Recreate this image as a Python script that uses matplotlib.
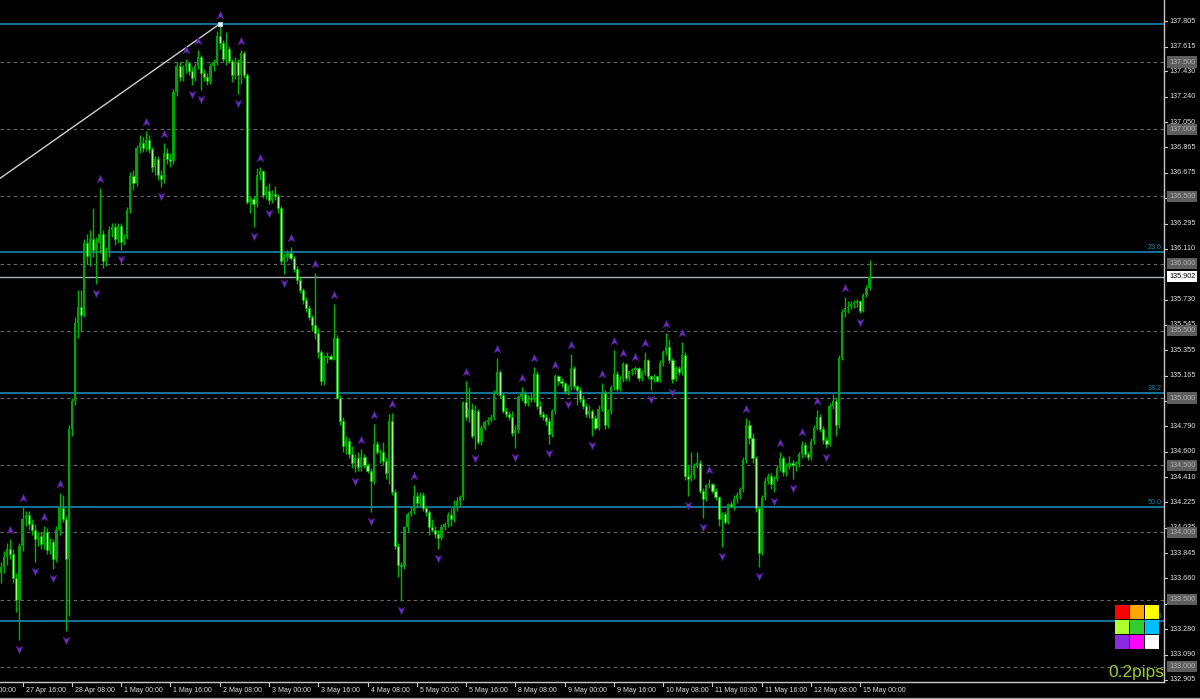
import numpy as np
import pandas as pd
import matplotlib
matplotlib.use("Agg")
import matplotlib.pyplot as plt
from matplotlib.path import Path
from matplotlib.patches import Rectangle
from matplotlib.lines import Line2D
from matplotlib.transforms import offset_copy

# H1 bars, 27 Apr 09:00 -> 15 May 03:00 (weekends skipped)
opens = [133.70, 133.74, 133.82, 133.88, 133.84, 133.66, 133.50, 133.90, 134.10, 134.13,
         134.06, 134.02, 133.95, 133.97, 133.91, 134.00, 133.87, 133.93, 133.80, 134.02,
         134.18, 134.10, 133.80, 134.77, 134.98, 135.56, 135.68, 135.62, 136.15, 136.06,
         136.18, 136.10, 136.15, 136.22, 136.02, 136.10, 136.25, 136.27, 136.18, 136.28,
         136.16, 136.20, 136.40, 136.65, 136.60, 136.86, 136.90, 136.86, 136.92, 136.85,
         136.72, 136.78, 136.66, 136.63, 136.82, 136.78, 136.76, 137.28, 137.47, 137.39,
         137.46, 137.49, 137.43, 137.38, 137.47, 137.54, 137.42, 137.39, 137.36, 137.47,
         137.50, 137.69, 137.64, 137.52, 137.60, 137.51, 137.40, 137.50, 137.40, 137.57,
         137.40, 136.46, 136.48, 136.44, 136.66, 136.69, 136.51, 136.54, 136.47, 136.52,
         136.50, 136.41, 136.02, 136.05, 136.08, 136.04, 135.96, 135.88, 135.80, 135.73,
         135.67, 135.60, 135.54, 135.48, 135.34, 135.13, 135.30, 135.31, 135.29, 135.45,
         135.00, 134.83, 134.64, 134.68, 134.58, 134.52, 134.55, 134.49, 134.56, 134.50,
         134.46, 134.38, 134.66, 134.60, 134.60, 134.53, 134.44, 134.83, 134.30, 133.90,
         133.76, 133.75, 134.04, 134.14, 134.16, 134.27, 134.22, 134.28, 134.18, 134.15,
         134.04, 134.02, 133.99, 133.96, 134.04, 134.06, 134.13, 134.10, 134.19, 134.23,
         134.26, 134.97, 134.86, 134.92, 134.72, 134.90, 134.67, 134.78, 134.82, 134.84,
         134.86, 135.04, 135.19, 135.02, 134.90, 134.88, 134.86, 134.74, 134.76, 135.01,
         135.03, 134.96, 135.00, 134.99, 135.18, 134.94, 134.88, 134.86, 134.83, 134.73,
         134.90, 135.16, 135.13, 135.11, 135.05, 135.08, 135.22, 135.09, 135.06, 134.99,
         134.94, 134.88, 134.90, 134.85, 134.78, 134.92, 135.04, 134.80, 134.90, 135.08,
         135.18, 135.07, 135.14, 135.25, 135.15, 135.20, 135.21, 135.22, 135.15, 135.19,
         135.28, 135.16, 135.14, 135.16, 135.13, 135.26, 135.34, 135.38, 135.28, 135.14,
         135.22, 135.19, 135.32, 134.42, 134.40, 134.43, 134.50, 134.52, 134.31, 134.25,
         134.35, 134.36, 134.31, 134.26, 134.10, 134.14, 134.08, 134.21, 134.20, 134.25,
         134.28, 134.32, 134.54, 134.80, 134.70, 134.55, 134.18, 133.85, 134.26, 134.38,
         134.42, 134.36, 134.40, 134.48, 134.55, 134.45, 134.49, 134.52, 134.50, 134.51,
         134.58, 134.65, 134.58, 134.56, 134.68, 134.78, 134.86, 134.77, 134.69, 134.66,
         134.94, 134.98, 134.80, 135.30, 135.64, 135.67, 135.68, 135.70, 135.71, 135.72,
         135.65, 135.77, 135.82]
highs = [133.78, 133.86, 133.92, 133.95, 133.88, 133.70, 133.92, 134.19, 134.16, 134.16,
         134.10, 134.06, 134.00, 134.00, 134.05, 134.03, 133.96, 133.95, 134.05, 134.29,
         134.28, 134.12, 134.80, 135.00, 135.60, 135.80, 135.80, 136.18, 136.22, 136.25,
         136.41, 136.20, 136.56, 136.25, 136.12, 136.28, 136.30, 136.30, 136.30, 136.30,
         136.22, 136.42, 136.68, 136.70, 136.88, 136.96, 136.94, 136.99, 136.96, 136.87,
         136.80, 136.80, 136.70, 136.90, 136.86, 136.82, 137.30, 137.50, 137.50, 137.48,
         137.52, 137.50, 137.46, 137.49, 137.59, 137.55, 137.45, 137.42, 137.49, 137.52,
         137.73, 137.783, 137.66, 137.72, 137.62, 137.52, 137.54, 137.52, 137.59, 137.58,
         137.42, 136.50, 136.50, 136.71, 136.72, 136.70, 136.58, 136.60, 136.55, 136.58,
         136.52, 136.43, 136.08, 136.10, 136.12, 136.06, 135.98, 135.90, 135.82, 135.75,
         135.69, 135.62, 135.93, 135.52, 135.36, 135.32, 135.34, 135.33, 135.70, 135.47,
         135.02, 134.86, 134.72, 134.70, 134.64, 134.58, 134.60, 134.62, 134.58, 134.52,
         134.48, 134.81, 134.68, 134.62, 134.67, 134.55, 134.88, 134.89, 134.32, 133.92,
         133.78, 134.05, 134.15, 134.20, 134.35, 134.30, 134.30, 134.30, 134.20, 134.17,
         134.10, 134.05, 134.02, 134.06, 134.08, 134.15, 134.18, 134.24, 134.26, 134.28,
         134.98, 135.13, 135.08, 134.96, 134.95, 134.92, 134.80, 134.84, 134.86, 134.88,
         135.06, 135.30, 135.21, 135.04, 134.93, 134.90, 134.90, 134.80, 135.02, 135.08,
         135.05, 135.02, 135.04, 135.23, 135.20, 134.98, 134.90, 134.88, 134.85, 134.92,
         135.18, 135.17, 135.15, 135.12, 135.10, 135.33, 135.24, 135.10, 135.08, 135.02,
         134.96, 134.95, 134.92, 134.87, 134.95, 135.11, 135.06, 134.92, 135.10, 135.36,
         135.20, 135.16, 135.27, 135.26, 135.21, 135.22, 135.24, 135.23, 135.21, 135.34,
         135.29, 135.17, 135.18, 135.17, 135.28, 135.36, 135.48, 135.44, 135.30, 135.24,
         135.24, 135.42, 135.34, 134.50, 134.60, 134.52, 134.60, 134.54, 134.33, 134.36,
         134.40, 134.37, 134.33, 134.27, 134.15, 134.16, 134.22, 134.23, 134.28, 134.30,
         134.34, 134.56, 134.85, 134.84, 134.74, 134.57, 134.20, 134.28, 134.41, 134.44,
         134.44, 134.42, 134.50, 134.60, 134.57, 134.52, 134.57, 134.54, 134.53, 134.60,
         134.68, 134.67, 134.60, 134.70, 134.80, 134.91, 134.88, 134.79, 134.71, 134.96,
         135.03, 135.00, 135.32, 135.66, 135.75, 135.72, 135.72, 135.73, 135.74, 135.73,
         135.78, 135.84, 136.03]
lows = [133.62, 133.70, 133.76, 133.80, 133.62, 133.41, 133.20, 133.86, 134.05, 134.02,
        133.98, 133.78, 133.90, 133.88, 133.88, 133.84, 133.84, 133.73, 133.78, 133.98,
        134.08, 133.27, 133.38, 134.72, 134.95, 135.45, 135.50, 135.60, 136.00, 135.98,
        136.05, 135.85, 136.08, 135.97, 135.98, 136.05, 136.20, 136.14, 136.15, 136.10,
        136.14, 136.18, 136.38, 136.55, 136.58, 136.82, 136.83, 136.84, 136.82, 136.68,
        136.66, 136.62, 136.57, 136.60, 136.74, 136.72, 136.74, 137.25, 137.36, 137.36,
        137.42, 137.40, 137.33, 137.36, 137.45, 137.29, 137.36, 137.33, 137.34, 137.43,
        137.48, 137.60, 137.50, 137.48, 137.49, 137.35, 137.37, 137.26, 137.34, 137.38,
        136.44, 136.38, 136.27, 136.42, 136.62, 136.49, 136.48, 136.44, 136.45, 136.47,
        136.38, 136.00, 135.92, 136.02, 136.03, 135.94, 135.85, 135.78, 135.70, 135.64,
        135.58, 135.50, 135.44, 135.30, 135.10, 135.10, 135.26, 135.28, 135.28, 134.99,
        134.80, 134.60, 134.58, 134.55, 134.48, 134.45, 134.46, 134.46, 134.48, 134.44,
        134.15, 134.36, 134.58, 134.52, 134.50, 134.40, 134.36, 134.28, 133.88, 133.67,
        133.49, 133.73, 134.00, 134.12, 134.14, 134.18, 134.20, 134.16, 134.12, 133.98,
        134.00, 133.96, 133.88, 133.94, 134.02, 134.04, 134.05, 134.08, 134.16, 134.20,
        134.24, 134.84, 134.82, 134.70, 134.62, 134.66, 134.65, 134.76, 134.80, 134.82,
        134.84, 135.02, 135.00, 134.89, 134.86, 134.84, 134.72, 134.63, 134.74, 134.98,
        134.94, 134.94, 134.97, 134.97, 134.92, 134.86, 134.84, 134.80, 134.66, 134.71,
        134.88, 135.10, 135.08, 135.03, 135.02, 135.06, 135.07, 134.95, 134.97, 134.92,
        134.86, 134.85, 134.72, 134.76, 134.76, 134.90, 134.77, 134.78, 134.88, 135.06,
        135.05, 135.05, 135.12, 135.13, 135.13, 135.17, 135.18, 135.13, 135.13, 135.17,
        135.14, 135.06, 135.12, 135.12, 135.12, 135.24, 135.32, 135.26, 135.11, 135.13,
        135.17, 135.17, 134.39, 134.27, 134.38, 134.40, 134.48, 134.29, 134.11, 134.23,
        134.33, 134.29, 134.24, 134.05, 133.89, 134.06, 134.06, 134.18, 134.17, 134.22,
        134.25, 134.30, 134.52, 134.66, 134.52, 134.15, 133.74, 133.83, 134.24, 134.36,
        134.32, 134.30, 134.38, 134.46, 134.42, 134.42, 134.47, 134.40, 134.46, 134.49,
        134.55, 134.56, 134.54, 134.54, 134.66, 134.76, 134.75, 134.66, 134.63, 134.64,
        134.92, 134.72, 134.78, 135.28, 135.60, 135.63, 135.66, 135.67, 135.68, 135.63,
        135.64, 135.75, 135.80]
closes = [133.74, 133.82, 133.88, 133.84, 133.66, 133.50, 133.90, 134.10, 134.13, 134.06,
          134.02, 133.95, 133.97, 133.91, 134.00, 133.87, 133.93, 133.80, 134.02, 134.18,
          134.10, 133.80, 134.77, 134.98, 135.56, 135.68, 135.62, 136.15, 136.06, 136.18,
          136.10, 136.15, 136.22, 136.02, 136.10, 136.25, 136.27, 136.18, 136.28, 136.16,
          136.20, 136.40, 136.65, 136.60, 136.86, 136.90, 136.86, 136.92, 136.85, 136.72,
          136.78, 136.66, 136.63, 136.82, 136.78, 136.76, 137.28, 137.47, 137.39, 137.46,
          137.49, 137.43, 137.38, 137.47, 137.54, 137.42, 137.39, 137.36, 137.47, 137.50,
          137.69, 137.64, 137.52, 137.60, 137.51, 137.40, 137.50, 137.40, 137.57, 137.40,
          136.46, 136.48, 136.44, 136.66, 136.69, 136.51, 136.54, 136.47, 136.52, 136.50,
          136.41, 136.02, 136.05, 136.08, 136.04, 135.96, 135.88, 135.80, 135.73, 135.67,
          135.60, 135.54, 135.48, 135.34, 135.13, 135.30, 135.31, 135.29, 135.45, 135.00,
          134.83, 134.64, 134.68, 134.58, 134.52, 134.55, 134.49, 134.56, 134.50, 134.46,
          134.38, 134.66, 134.60, 134.60, 134.53, 134.44, 134.83, 134.30, 133.90, 133.76,
          133.75, 134.04, 134.14, 134.16, 134.27, 134.22, 134.28, 134.18, 134.15, 134.04,
          134.02, 133.99, 133.96, 134.04, 134.06, 134.13, 134.10, 134.19, 134.23, 134.26,
          134.97, 134.86, 134.92, 134.72, 134.90, 134.67, 134.78, 134.82, 134.84, 134.86,
          135.04, 135.19, 135.02, 134.90, 134.88, 134.86, 134.74, 134.76, 135.01, 135.03,
          134.96, 135.00, 134.99, 135.18, 134.94, 134.88, 134.86, 134.83, 134.73, 134.90,
          135.16, 135.13, 135.11, 135.05, 135.08, 135.22, 135.09, 135.06, 134.99, 134.94,
          134.88, 134.90, 134.85, 134.78, 134.92, 135.04, 134.80, 134.90, 135.08, 135.18,
          135.07, 135.14, 135.25, 135.15, 135.20, 135.21, 135.22, 135.15, 135.19, 135.28,
          135.16, 135.14, 135.16, 135.13, 135.26, 135.34, 135.38, 135.28, 135.14, 135.22,
          135.19, 135.32, 134.42, 134.40, 134.43, 134.50, 134.52, 134.31, 134.25, 134.35,
          134.36, 134.31, 134.26, 134.10, 134.14, 134.08, 134.21, 134.20, 134.25, 134.28,
          134.32, 134.54, 134.80, 134.70, 134.55, 134.18, 133.85, 134.26, 134.38, 134.42,
          134.36, 134.40, 134.48, 134.55, 134.45, 134.49, 134.52, 134.50, 134.51, 134.58,
          134.65, 134.58, 134.56, 134.68, 134.78, 134.86, 134.77, 134.69, 134.66, 134.94,
          134.98, 134.80, 135.30, 135.64, 135.67, 135.68, 135.70, 135.71, 135.72, 135.65,
          135.77, 135.82, 135.902]

bid = 135.902
fib_high, fib_low = 137.783, 130.60
fib_high_bar, fib_low_bar = 71, -375
fib_levels = [0.0, 23.6, 38.2, 50.0, 61.8]
round_levels = [133.0, 133.5, 134.0, 134.5, 135.0, 135.5, 136.0, 136.5, 137.0, 137.5]
# 135.920 sits fully under the bid box in the original, so it is left out
price_ticks = [137.805, 137.615, 137.430, 137.240, 137.050, 136.865, 136.675, 136.485,
               136.295, 136.110, 135.730, 135.545, 135.355, 135.165, 134.980,
               134.790, 134.600, 134.410, 134.225, 134.035, 133.845, 133.660, 133.470,
               133.280, 133.090, 132.905]
swatches = [['#ff0000', '#ffa500', '#ffff00'],
            ['#adff2f', '#32cd32', '#00bfff'],
            ['#8a2be2', '#ff00ff', '#ffffff']]
spread_text = '0.2pips'

plt.rcParams['font.family'] = ['Liberation Sans', 'DejaVu Sans']

# time axis (first label 27 Apr 00:00 sits 9 bars left of the first bar)
hours = pd.date_range('2017-04-27 00:00', '2017-05-15 03:00', freq='h')
hours = hours[hours.dayofweek < 5]
first = 9
o = np.array(opens); h = np.array(highs); l = np.array(lows); c = np.array(closes)
n = len(c)
x = np.arange(n)

W, H = 1200, 699
fig = plt.figure(figsize=(W / 100, H / 100), dpi=100, facecolor='black')
ax = fig.add_axes([0, 17 / H, 1164 / W, 682 / H], facecolor='black')
ax.set_xlim(-0.32, 377.6)
ax.set_ylim(137.5 - 620 / 134.4, 137.5 + 62 / 134.4)

for s in ['left', 'top']:
    ax.spines[s].set_visible(False)
for s in ['right', 'bottom']:
    ax.spines[s].set_color('#c8c8c8')
    ax.spines[s].set_linewidth(1.0)

# round levels
for lv in round_levels:
    ax.axhline(lv, color='#6a6a6a', lw=0.8, ls=(0, (3, 3)), zorder=1)

# fibonacci
fib_col = '#1a86b4'
for r in fib_levels:
    lv = fib_high - (fib_high - fib_low) * r / 100
    ax.axhline(lv, color=fib_col, lw=1.2, zorder=2)
    if r > 0:
        ax.annotate(f'{r:.1f}', xy=(1, lv), xycoords=('axes fraction', 'data'),
                    xytext=(-2, 1), textcoords='offset pixels', ha='right', va='bottom',
                    color=fib_col, fontsize=5.2, zorder=2)
ax.plot([fib_low_bar, fib_high_bar], [fib_low, fib_high], color='#cfcfcf', lw=1, zorder=3)
ax.plot([fib_high_bar], [fib_high], marker='s', ms=3.2, mfc='white', mec='#b8e0ff',
        mew=0.6, zorder=6)

# bid line
ax.axhline(bid, color='#a9b2ba', lw=1, zorder=2)

# candles
up = c >= o
ax.vlines(x, l, h, color='#00b400', lw=1, zorder=3)
body_lo = np.minimum(o, c)
body_h = np.maximum(np.abs(c - o), 0.007)
ax.bar(x[up], body_h[up], bottom=body_lo[up], width=0.7, color='#00a400',
       linewidth=0, zorder=4)
ax.bar(x[~up], body_h[~up], bottom=body_lo[~up], width=0.7, color='#90ff72',
       edgecolor='#00b400', linewidth=0.4, zorder=4)

# fractals
fr_up = [i for i in range(2, n - 2) if h[i] > max(h[i - 2], h[i - 1], h[i + 1], h[i + 2])]
fr_dn = [i for i in range(2, n - 2) if l[i] < min(l[i - 2], l[i - 1], l[i + 1], l[i + 2])]
arrow_up = Path([(0, 1), (0.8, -0.8), (0, -0.3), (-0.8, -0.8), (0, 1)],
                [Path.MOVETO, Path.LINETO, Path.LINETO, Path.LINETO, Path.CLOSEPOLY])
arrow_dn = Path([(0, -1), (0.8, 0.8), (0, 0.3), (-0.8, 0.8), (0, -1)],
                [Path.MOVETO, Path.LINETO, Path.LINETO, Path.LINETO, Path.CLOSEPOLY])
tr_up = offset_copy(ax.transData, fig=fig, x=0, y=9, units='dots')
tr_dn = offset_copy(ax.transData, fig=fig, x=0, y=-9, units='dots')
ax.plot(x[fr_up], h[fr_up], ls='none', marker=arrow_up, ms=6, mfc='#7430cc',
        mec='#45197f', mew=0.5, transform=tr_up, zorder=5)
ax.plot(x[fr_dn], l[fr_dn], ls='none', marker=arrow_dn, ms=6, mfc='#7430cc',
        mec='#45197f', mew=0.5, transform=tr_dn, zorder=5)

# price scale
ax.set_yticks([])
ax.set_xticks([])
for p in price_ticks:
    ax.add_line(Line2D([1, 1.003], [p, p], transform=ax.get_yaxis_transform(),
                       color='#c8c8c8', lw=0.8, clip_on=False))
    ax.annotate(f'{p:.3f}', xy=(1, p), xycoords=('axes fraction', 'data'),
                xytext=(5, 0), textcoords='offset pixels', ha='left', va='center',
                color='#e0e0e0', fontsize=5.2, annotation_clip=False)
for lv in round_levels:
    ax.annotate(f'{lv:.3f}', xy=(1, lv), xycoords=('axes fraction', 'data'),
                xytext=(5, 0), textcoords='offset pixels', ha='left', va='center',
                color='#b0b0b0', fontsize=5.2, annotation_clip=False,
                bbox=dict(boxstyle='square,pad=0.3', fc='#5e5e5e', ec='none'))
ax.annotate(f'{bid:.3f}', xy=(1, bid), xycoords=('axes fraction', 'data'),
            xytext=(5, 0), textcoords='offset pixels', ha='left', va='center',
            color='black', fontsize=5.2, annotation_clip=False,
            bbox=dict(boxstyle='square,pad=0.3', fc='white', ec='none'))

# time scale
for k in range(0, len(hours), 16):
    t = hours[k]
    xb = k - first
    ax.add_line(Line2D([xb, xb], [0, -0.006], transform=ax.get_xaxis_transform(),
                       color='#c8c8c8', lw=0.8, clip_on=False))
    ax.annotate(f'{t.day} {t:%b %H:%M}', xy=(xb, 0), xycoords=('data', 'axes fraction'),
                xytext=(3, -8), textcoords='offset pixels', ha='left', va='center',
                color='#e0e0e0', fontsize=5.0, annotation_clip=False)

# colour swatches and spread
cell = 15
for r, row in enumerate(swatches):
    for q, col in enumerate(row):
        x0 = 1115 + q * cell
        y0 = 604 + r * cell
        fig.add_artist(Rectangle((x0 / W, 1 - (y0 + cell) / H), (cell - 0.6) / W,
                                 (cell - 0.6) / H, transform=fig.transFigure,
                                 facecolor=col, edgecolor='none', zorder=10))
fig.text(1108 / W, 1 - 673 / H, spread_text, color='#9acd32', fontsize=12.5,
         ha='left', va='center', zorder=10)

fig.add_artist(Line2D([0, 1], [0.6 / H, 0.6 / H], transform=fig.transFigure,
                      color='#9a9a9a', lw=1))

fig.savefig('out.png', dpi=100, facecolor='black')
